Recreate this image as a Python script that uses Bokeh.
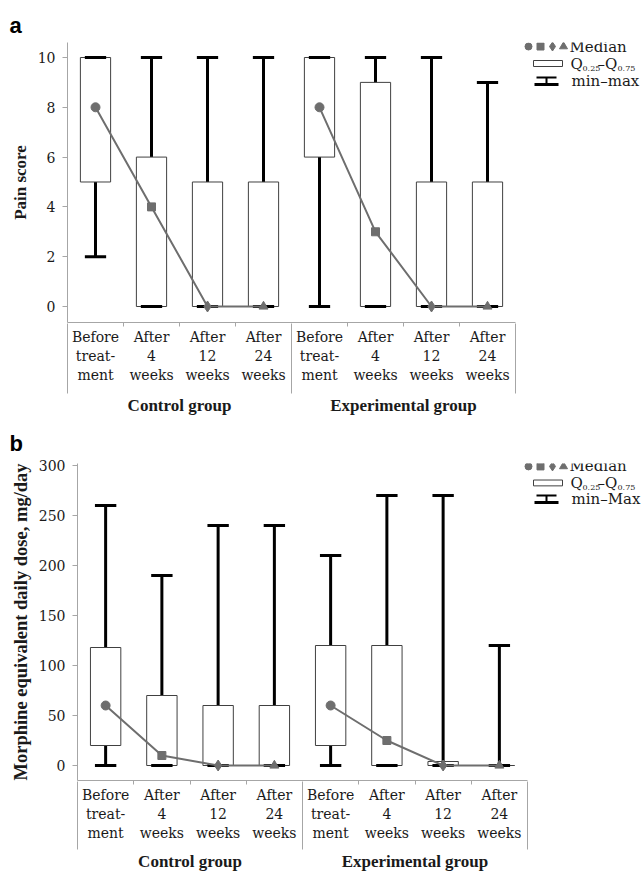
from bokeh.plotting import figure
from bokeh.models import Range1d, LinearAxis, FixedTicker, Title
from bokeh.embed import file_html
from bokeh.resources import INLINE
from bokeh.core.properties import value

# ---------------- data ----------------
time_labels = ["Before\ntreat-\nment", "After\n4\nweeks", "After\n12\nweeks", "After\n24\nweeks"]
group_labels = ["Control group", "Experimental group"]
median_markers = ["circle", "square", "diamond", "triangle"]

# Panel a: pain score (Control x4, Experimental x4)
pain_min = [2, 0, 0, 0, 0, 0, 0, 0]
pain_q1 = [5, 0, 0, 0, 6, 0, 0, 0]
pain_med = [8, 4, 0, 0, 8, 3, 0, 0]
pain_q3 = [10, 6, 5, 5, 10, 9, 5, 5]
pain_max = [10, 10, 10, 10, 10, 10, 10, 9]
pain_ticks = [0, 2, 4, 6, 8, 10]

# Panel b: morphine equivalent daily dose, mg/day
mor_min = [0, 0, 0, 0, 0, 0, 0, 0]
mor_q1 = [20, 0, 0, 0, 20, 0, 0, 0]
mor_med = [60, 10, 0, 0, 60, 25, 0, 0]
mor_q3 = [118, 70, 60, 60, 120, 120, 4, 0]
mor_max = [260, 190, 240, 240, 210, 270, 270, 120]
mor_ticks = [0, 50, 100, 150, 200, 250, 300]

# ---------------- style ----------------
F_REG = "DejaVu Serif"
F_BOLD = "Liberation Serif"
SANS = "Liberation Sans"
AX = "#a6a6a6"
BOXLINE = "#404040"
MED = "#6e6e6e"
TXT = "#1a1a1a"
FIG_W = 641
BOX_W = 0.54
CAP_HALF = 0.19


def panel(letter, ylabel, yticks, mins, q1s, meds, q3s, maxs, last_label, g):
    nt = len(time_labels)
    n = nt * len(group_labels)
    frame_w = FIG_W - g["left"]
    frame_h = g["height"] - g["top"] - g["bottom"]
    xmax = frame_w / g["px_per_cat"]
    p = figure(width=FIG_W, height=g["height"],
               x_range=Range1d(0, xmax), y_range=Range1d(g["ymin"], g["ymax"]),
               x_axis_type=None, y_axis_type=None,
               output_backend="svg", toolbar_location=None,
               min_border_left=g["left"], min_border_right=0,
               min_border_top=g["top"], min_border_bottom=g["bottom"],
               outline_line_color=None, background_fill_color="white",
               border_fill_color="white")
    p.grid.visible = False

    p.title = Title(text=letter, align="left", offset=9 - g["left"],
                    text_font=SANS, text_font_size="22px", text_font_style="bold",
                    text_color="black", standoff=g["title_standoff"])

    # y axis
    yax = LinearAxis(ticker=FixedTicker(ticks=yticks))
    yax.axis_line_color = AX
    yax.major_tick_line_color = AX
    yax.major_tick_out = 5
    yax.major_tick_in = 0
    yax.minor_tick_line_color = None
    yax.major_label_text_font = F_REG
    yax.major_label_text_font_size = "14px"
    yax.major_label_text_color = TXT
    yax.major_label_standoff = 7
    yax.axis_label = ylabel
    yax.axis_label_text_font = F_BOLD
    yax.axis_label_text_font_size = g["ylabel_size"]
    yax.axis_label_text_font_style = "bold"
    yax.axis_label_text_color = TXT
    yax.axis_label_standoff = 5
    p.add_layout(yax, "left")

    centers = [i + 0.5 for i in range(n)]
    # category axis
    cax = LinearAxis(ticker=FixedTicker(ticks=centers,
                                        minor_ticks=[i for i in range(1, n) if i % nt != 0]),
                     bounds=(0, n), axis_label=None, axis_label_standoff=0)
    cax.major_label_overrides = {c: time_labels[i % nt] for i, c in enumerate(centers)}
    cax.axis_line_color = AX
    cax.major_tick_line_color = None
    cax.major_tick_in = 0
    cax.major_tick_out = 0
    cax.minor_tick_line_color = AX
    cax.minor_tick_in = 0
    cax.minor_tick_out = 4
    cax.major_label_text_font = F_REG
    cax.major_label_text_font_size = "14px"
    cax.major_label_text_color = TXT
    cax.major_label_text_line_height = 1.2
    cax.major_label_standoff = 2
    p.add_layout(cax, "below")

    # group axis with separators
    gcent = [nt * k + nt / 2 for k in range(len(group_labels))]
    gax = LinearAxis(ticker=FixedTicker(ticks=gcent, minor_ticks=[nt * k for k in range(len(group_labels) + 1)]),
                     bounds=(0, n), axis_label=None, axis_label_standoff=0)
    gax.major_label_overrides = {c: group_labels[k] for k, c in enumerate(gcent)}
    gax.axis_line_color = None
    gax.major_tick_line_color = None
    gax.major_tick_in = 0
    gax.major_tick_out = 0
    gax.minor_tick_line_color = AX
    gax.minor_tick_in = g["sep_in"]
    gax.minor_tick_out = g["sep_out"]
    gax.major_label_text_font = F_BOLD
    gax.major_label_text_font_size = "17px"
    gax.major_label_text_font_style = "bold"
    gax.major_label_text_color = TXT
    gax.major_label_text_line_height = 1.0
    gax.major_label_standoff = g["group_standoff"]
    p.add_layout(gax, "below")

    # whiskers (full span), boxes, caps
    p.segment(x0=centers, y0=mins, x1=centers, y1=maxs, line_color="black", line_width=3)
    p.vbar(x=centers, bottom=q1s, top=q3s, width=BOX_W, fill_color="white",
           line_color=BOXLINE, line_width=1)
    p.segment(x0=[c - CAP_HALF for c in centers], y0=maxs, x1=[c + CAP_HALF for c in centers], y1=maxs,
              line_color="black", line_width=3)
    p.segment(x0=[c - CAP_HALF for c in centers], y0=mins, x1=[c + CAP_HALF for c in centers], y1=mins,
              line_color="black", line_width=3)

    # medians
    for k in range(len(group_labels)):
        sl = slice(k * nt, (k + 1) * nt)
        p.line(centers[sl], meds[sl], line_color=MED, line_width=2)
    msize = {"circle": 9, "square": 8, "diamond": 11, "triangle": 9}
    for t, m in enumerate(median_markers):
        xs = [centers[k * nt + t] for k in range(len(group_labels))]
        ys = [meds[k * nt + t] for k in range(len(group_labels))]
        p.scatter(xs, ys, marker=m, size=msize[m], fill_color=MED, line_color=MED)

    # legend (pixel layout converted to data space)
    yr = g["ymax"] - g["ymin"]

    def X(px):
        return (px - g["left"]) / frame_w * xmax

    def Y(py):
        return g["ymax"] - (py - g["top"]) / frame_h * yr

    r1, r2, r3 = g["rows"]
    lx = [528, 540, 552, 563]
    lsize = {"circle": 7, "square": 7, "diamond": 9, "triangle": 8}
    for xpx, m in zip(lx, median_markers):
        p.scatter([X(xpx)], [Y(r1)], marker=m, size=lsize[m], fill_color=MED, line_color=MED)
    tkw = dict(text_font=value(F_REG), text_color=TXT, text_baseline="middle", text_align="left")
    p.text([X(569)], [Y(r1)], text=["Median"], text_font_size="15px", **tkw)
    p.quad(left=[X(533)], right=[X(562)], top=[Y(r2 - 3)], bottom=[Y(r2 + 3)],
           fill_color="white", line_color=BOXLINE, line_width=1)
    p.text([X(570)], [Y(r2)], text=["Q"], text_font_size="15px", **tkw)
    p.text([X(582)], [Y(r2 + 5)], text=["0.25"], text_font_size="8px", **tkw)
    p.text([X(597)], [Y(r2)], text=["\u2013Q"], text_font_size="15px", **tkw)
    p.text([X(617)], [Y(r2 + 5)], text=["0.75"], text_font_size="8px", **tkw)
    p.segment(x0=[X(536)], y0=[Y(r3 - 3)], x1=[X(556)], y1=[Y(r3 - 3)], line_color="black", line_width=2)
    p.segment(x0=[X(546)], y0=[Y(r3 - 3)], x1=[X(546)], y1=[Y(r3 + 4)], line_color="black", line_width=2)
    p.segment(x0=[X(534)], y0=[Y(r3 + 4)], x1=[X(558)], y1=[Y(r3 + 4)], line_color="black", line_width=3)
    p.text([X(571)], [Y(r3)], text=[last_label], text_font_size="15px", **tkw)
    return p


# figure-pixel geometry (rows are in figure coordinates)
g1 = dict(height=420, left=67, top=42, bottom=98, px_per_cat=56.0,
          ymin=-0.643, ymax=10.602, title_standoff=10, sep_in=62, sep_out=8,
          group_standoff=2, rows=(46, 63, 80), ylabel_size="17px")
g2 = dict(height=453, left=77, top=37, bottom=90, px_per_cat=56.25,
          ymin=-15, ymax=302, title_standoff=16, sep_in=62, sep_out=6,
          group_standoff=2, rows=(40, 57, 73), ylabel_size="18.5px")

p1 = panel("a", "Pain score", pain_ticks, pain_min, pain_q1, pain_med, pain_q3, pain_max,
           "min\u2013max", g1)
p2 = panel("b", "Morphine equivalent daily dose, mg/day", mor_ticks, mor_min, mor_q1, mor_med,
           mor_q3, mor_max, "min\u2013Max", g2)

open("out.html", "w").write(file_html([p1, p2], INLINE))
